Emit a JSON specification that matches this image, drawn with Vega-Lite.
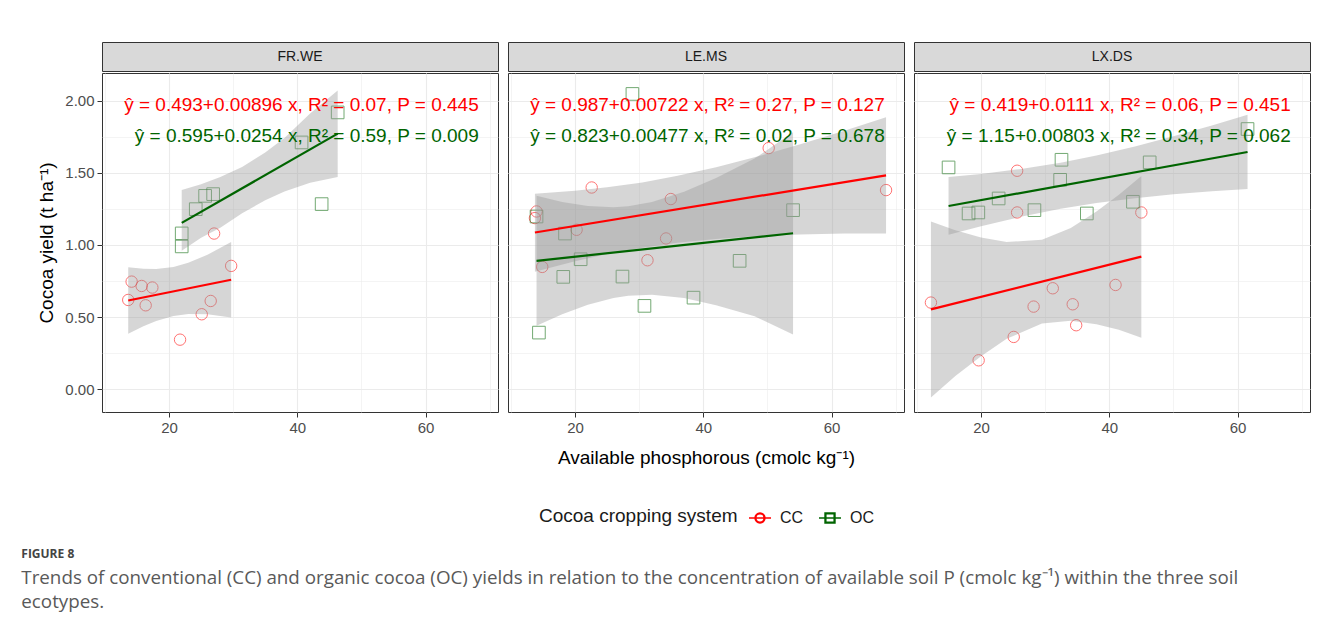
{
  "$schema": "https://vega.github.io/schema/vega-lite/v6.json",
  "padding": {"left": 21, "top": 41, "right": 5, "bottom": 5},
  "background": "white",
  "datasets": {
    "strips": [{"panel": "FR.WE"}, {"panel": "LE.MS"}, {"panel": "LX.DS"}],
    "points": [
      {"panel": "FR.WE", "system": "CC", "P": 13.64, "yield": 0.619},
      {"panel": "FR.WE", "system": "CC", "P": 14.17, "yield": 0.746},
      {"panel": "FR.WE", "system": "CC", "P": 15.73, "yield": 0.716},
      {"panel": "FR.WE", "system": "CC", "P": 17.4, "yield": 0.705},
      {"panel": "FR.WE", "system": "CC", "P": 16.36, "yield": 0.582},
      {"panel": "FR.WE", "system": "CC", "P": 21.72, "yield": 0.344},
      {"panel": "FR.WE", "system": "CC", "P": 25.1, "yield": 0.52},
      {"panel": "FR.WE", "system": "CC", "P": 26.5, "yield": 0.612},
      {"panel": "FR.WE", "system": "CC", "P": 27.03, "yield": 1.079},
      {"panel": "FR.WE", "system": "CC", "P": 29.69, "yield": 0.855},
      {"panel": "FR.WE", "system": "OC", "P": 21.98, "yield": 0.99},
      {"panel": "FR.WE", "system": "OC", "P": 21.98, "yield": 1.08},
      {"panel": "FR.WE", "system": "OC", "P": 24.17, "yield": 1.248},
      {"panel": "FR.WE", "system": "OC", "P": 25.63, "yield": 1.34},
      {"panel": "FR.WE", "system": "OC", "P": 26.88, "yield": 1.352},
      {"panel": "FR.WE", "system": "OC", "P": 40.67, "yield": 1.71},
      {"panel": "FR.WE", "system": "OC", "P": 43.8, "yield": 1.283},
      {"panel": "FR.WE", "system": "OC", "P": 46.3, "yield": 1.918},
      {"panel": "LE.MS", "system": "CC", "P": 13.75, "yield": 1.186},
      {"panel": "LE.MS", "system": "CC", "P": 14.0, "yield": 1.232},
      {"panel": "LE.MS", "system": "CC", "P": 14.89, "yield": 0.848},
      {"panel": "LE.MS", "system": "CC", "P": 20.25, "yield": 1.105},
      {"panel": "LE.MS", "system": "CC", "P": 22.6, "yield": 1.398},
      {"panel": "LE.MS", "system": "CC", "P": 31.3, "yield": 0.894},
      {"panel": "LE.MS", "system": "CC", "P": 34.2, "yield": 1.045},
      {"panel": "LE.MS", "system": "CC", "P": 34.94, "yield": 1.318},
      {"panel": "LE.MS", "system": "CC", "P": 50.2, "yield": 1.671},
      {"panel": "LE.MS", "system": "CC", "P": 68.5, "yield": 1.38},
      {"panel": "LE.MS", "system": "OC", "P": 14.0, "yield": 1.197},
      {"panel": "LE.MS", "system": "OC", "P": 14.37, "yield": 0.393},
      {"panel": "LE.MS", "system": "OC", "P": 18.44, "yield": 1.079},
      {"panel": "LE.MS", "system": "OC", "P": 18.17, "yield": 0.779},
      {"panel": "LE.MS", "system": "OC", "P": 20.88, "yield": 0.901},
      {"panel": "LE.MS", "system": "OC", "P": 27.4, "yield": 0.781},
      {"panel": "LE.MS", "system": "OC", "P": 28.95, "yield": 2.046},
      {"panel": "LE.MS", "system": "OC", "P": 30.83, "yield": 0.578},
      {"panel": "LE.MS", "system": "OC", "P": 38.48, "yield": 0.635},
      {"panel": "LE.MS", "system": "OC", "P": 45.67, "yield": 0.89},
      {"panel": "LE.MS", "system": "OC", "P": 54.0, "yield": 1.241},
      {"panel": "LX.DS", "system": "CC", "P": 12.19, "yield": 0.601},
      {"panel": "LX.DS", "system": "CC", "P": 19.63, "yield": 0.201},
      {"panel": "LX.DS", "system": "CC", "P": 25.1, "yield": 0.363},
      {"panel": "LX.DS", "system": "CC", "P": 25.63, "yield": 1.514},
      {"panel": "LX.DS", "system": "CC", "P": 25.63, "yield": 1.225},
      {"panel": "LX.DS", "system": "CC", "P": 28.2, "yield": 0.573},
      {"panel": "LX.DS", "system": "CC", "P": 31.19, "yield": 0.7},
      {"panel": "LX.DS", "system": "CC", "P": 34.3, "yield": 0.589},
      {"panel": "LX.DS", "system": "CC", "P": 34.84, "yield": 0.444},
      {"panel": "LX.DS", "system": "CC", "P": 40.98, "yield": 0.723},
      {"panel": "LX.DS", "system": "CC", "P": 45.0, "yield": 1.225},
      {"panel": "LX.DS", "system": "OC", "P": 14.94, "yield": 1.537},
      {"panel": "LX.DS", "system": "OC", "P": 18.06, "yield": 1.218},
      {"panel": "LX.DS", "system": "OC", "P": 19.58, "yield": 1.225},
      {"panel": "LX.DS", "system": "OC", "P": 22.75, "yield": 1.322},
      {"panel": "LX.DS", "system": "OC", "P": 28.33, "yield": 1.241},
      {"panel": "LX.DS", "system": "OC", "P": 32.34, "yield": 1.451},
      {"panel": "LX.DS", "system": "OC", "P": 32.55, "yield": 1.59},
      {"panel": "LX.DS", "system": "OC", "P": 36.5, "yield": 1.218},
      {"panel": "LX.DS", "system": "OC", "P": 43.69, "yield": 1.299},
      {"panel": "LX.DS", "system": "OC", "P": 46.3, "yield": 1.572},
      {"panel": "LX.DS", "system": "OC", "P": 61.56, "yield": 1.803}
    ],
    "lines": [
      {"panel": "FR.WE", "system": "CC", "P": 13.64, "fit": 0.615},
      {"panel": "FR.WE", "system": "CC", "P": 29.69, "fit": 0.759},
      {"panel": "FR.WE", "system": "OC", "P": 21.98, "fit": 1.153},
      {"panel": "FR.WE", "system": "OC", "P": 46.3, "fit": 1.771},
      {"panel": "LE.MS", "system": "CC", "P": 13.75, "fit": 1.086},
      {"panel": "LE.MS", "system": "CC", "P": 68.5, "fit": 1.482},
      {"panel": "LE.MS", "system": "OC", "P": 14.0, "fit": 0.89},
      {"panel": "LE.MS", "system": "OC", "P": 54.0, "fit": 1.081},
      {"panel": "LX.DS", "system": "CC", "P": 12.19, "fit": 0.554},
      {"panel": "LX.DS", "system": "CC", "P": 45.0, "fit": 0.919},
      {"panel": "LX.DS", "system": "OC", "P": 14.94, "fit": 1.27},
      {"panel": "LX.DS", "system": "OC", "P": 61.56, "fit": 1.644}
    ],
    "bands": [
      {"panel": "FR.WE", "system": "CC", "P": 13.64, "lo": 0.385, "hi": 0.845},
      {"panel": "FR.WE", "system": "CC", "P": 16, "lo": 0.437, "hi": 0.835},
      {"panel": "FR.WE", "system": "CC", "P": 18, "lo": 0.474, "hi": 0.834},
      {"panel": "FR.WE", "system": "CC", "P": 20.7, "lo": 0.508, "hi": 0.848},
      {"panel": "FR.WE", "system": "CC", "P": 23, "lo": 0.522, "hi": 0.876},
      {"panel": "FR.WE", "system": "CC", "P": 26, "lo": 0.52, "hi": 0.932},
      {"panel": "FR.WE", "system": "CC", "P": 29.69, "lo": 0.498, "hi": 1.02},
      {"panel": "FR.WE", "system": "OC", "P": 21.98, "lo": 0.96, "hi": 1.38},
      {"panel": "FR.WE", "system": "OC", "P": 25, "lo": 1.05, "hi": 1.42},
      {"panel": "FR.WE", "system": "OC", "P": 28, "lo": 1.12, "hi": 1.47},
      {"panel": "FR.WE", "system": "OC", "P": 31.4, "lo": 1.22, "hi": 1.54},
      {"panel": "FR.WE", "system": "OC", "P": 35, "lo": 1.31, "hi": 1.64},
      {"panel": "FR.WE", "system": "OC", "P": 38, "lo": 1.37, "hi": 1.74},
      {"panel": "FR.WE", "system": "OC", "P": 42, "lo": 1.43, "hi": 1.91},
      {"panel": "FR.WE", "system": "OC", "P": 46.3, "lo": 1.47, "hi": 2.07},
      {"panel": "LE.MS", "system": "CC", "P": 13.75, "lo": 0.815, "hi": 1.355},
      {"panel": "LE.MS", "system": "CC", "P": 20, "lo": 0.887, "hi": 1.375},
      {"panel": "LE.MS", "system": "CC", "P": 25, "lo": 0.937, "hi": 1.4},
      {"panel": "LE.MS", "system": "CC", "P": 30.5, "lo": 0.981, "hi": 1.433},
      {"panel": "LE.MS", "system": "CC", "P": 36, "lo": 1.016, "hi": 1.479},
      {"panel": "LE.MS", "system": "CC", "P": 42, "lo": 1.042, "hi": 1.538},
      {"panel": "LE.MS", "system": "CC", "P": 48, "lo": 1.061, "hi": 1.607},
      {"panel": "LE.MS", "system": "CC", "P": 55, "lo": 1.073, "hi": 1.695},
      {"panel": "LE.MS", "system": "CC", "P": 62, "lo": 1.079, "hi": 1.791},
      {"panel": "LE.MS", "system": "CC", "P": 68.5, "lo": 1.08, "hi": 1.884},
      {"panel": "LE.MS", "system": "OC", "P": 14.0, "lo": 0.44, "hi": 1.34},
      {"panel": "LE.MS", "system": "OC", "P": 18, "lo": 0.52, "hi": 1.298},
      {"panel": "LE.MS", "system": "OC", "P": 22, "lo": 0.586, "hi": 1.27},
      {"panel": "LE.MS", "system": "OC", "P": 26, "lo": 0.633, "hi": 1.261},
      {"panel": "LE.MS", "system": "OC", "P": 28.3, "lo": 0.648, "hi": 1.268},
      {"panel": "LE.MS", "system": "OC", "P": 32, "lo": 0.655, "hi": 1.297},
      {"panel": "LE.MS", "system": "OC", "P": 37, "lo": 0.632, "hi": 1.368},
      {"panel": "LE.MS", "system": "OC", "P": 42, "lo": 0.583, "hi": 1.463},
      {"panel": "LE.MS", "system": "OC", "P": 48, "lo": 0.506, "hi": 1.598},
      {"panel": "LE.MS", "system": "OC", "P": 54.0, "lo": 0.38, "hi": 1.78},
      {"panel": "LX.DS", "system": "CC", "P": 12.19, "lo": -0.057, "hi": 1.163},
      {"panel": "LX.DS", "system": "CC", "P": 16, "lo": 0.092, "hi": 1.102},
      {"panel": "LX.DS", "system": "CC", "P": 20, "lo": 0.23, "hi": 1.052},
      {"panel": "LX.DS", "system": "CC", "P": 24, "lo": 0.35, "hi": 1.02},
      {"panel": "LX.DS", "system": "CC", "P": 29.5, "lo": 0.456, "hi": 1.036},
      {"panel": "LX.DS", "system": "CC", "P": 34, "lo": 0.475, "hi": 1.117},
      {"panel": "LX.DS", "system": "CC", "P": 38, "lo": 0.451, "hi": 1.231},
      {"panel": "LX.DS", "system": "CC", "P": 41.5, "lo": 0.412, "hi": 1.348},
      {"panel": "LX.DS", "system": "CC", "P": 45.0, "lo": 0.357, "hi": 1.477},
      {"panel": "LX.DS", "system": "OC", "P": 14.94, "lo": 1.07, "hi": 1.47},
      {"panel": "LX.DS", "system": "OC", "P": 20, "lo": 1.13, "hi": 1.492},
      {"panel": "LX.DS", "system": "OC", "P": 26, "lo": 1.193, "hi": 1.525},
      {"panel": "LX.DS", "system": "OC", "P": 32.4, "lo": 1.25, "hi": 1.57},
      {"panel": "LX.DS", "system": "OC", "P": 38, "lo": 1.29, "hi": 1.62},
      {"panel": "LX.DS", "system": "OC", "P": 44, "lo": 1.324, "hi": 1.682},
      {"panel": "LX.DS", "system": "OC", "P": 50, "lo": 1.351, "hi": 1.753},
      {"panel": "LX.DS", "system": "OC", "P": 56, "lo": 1.372, "hi": 1.828},
      {"panel": "LX.DS", "system": "OC", "P": 61.56, "lo": 1.388, "hi": 1.902}
    ],
    "labels": [
      {"panel": "FR.WE", "system": "CC", "P": 68.3, "ypos": 1.97, "label": "ŷ = 0.493+0.00896 x, R² = 0.07, P = 0.445"},
      {"panel": "FR.WE", "system": "OC", "P": 68.3, "ypos": 1.756, "label": "ŷ = 0.595+0.0254 x, R² = 0.59, P = 0.009"},
      {"panel": "LE.MS", "system": "CC", "P": 68.3, "ypos": 1.97, "label": "ŷ = 0.987+0.00722 x, R² = 0.27, P = 0.127"},
      {"panel": "LE.MS", "system": "OC", "P": 68.3, "ypos": 1.756, "label": "ŷ = 0.823+0.00477 x, R² = 0.02, P = 0.678"},
      {"panel": "LX.DS", "system": "CC", "P": 68.3, "ypos": 1.97, "label": "ŷ = 0.419+0.0111 x, R² = 0.06, P = 0.451"},
      {"panel": "LX.DS", "system": "OC", "P": 68.3, "ypos": 1.756, "label": "ŷ = 1.15+0.00803 x, R² = 0.34, P = 0.062"}
    ]
  },
  "title": {
    "text": "FIGURE 8",
    "subtitle": ["Trends of conventional (CC) and organic cocoa (OC) yields in relation to the concentration of available soil P (cmolc kg⁻¹) within the three soil", "ecotypes."],
    "orient": "bottom",
    "anchor": "start",
    "offset": 23,
    "dx": -16,
    "font": "Open Sans",
    "fontSize": 12,
    "fontWeight": "bold",
    "color": "#444444",
    "subtitleFont": "Open Sans",
    "subtitleFontSize": 18.8,
    "subtitleColor": "#595959",
    "subtitlePadding": 8,
    "subtitleLineHeight": 23.5
  },
  "spacing": 8,
  "hconcat": [
    {
      "spacing": 0,
      "vconcat": [
        {
          "width": 396, "height": 29,
          "view": {"fill": "#D9D9D9", "stroke": "#333333"},
          "data": {"name": "strips"},
          "transform": [{"filter": "datum.panel === 'FR.WE'"}],
          "mark": {"type": "text", "fontSize": 14, "color": "#1A1A1A"},
          "encoding": {"text": {"field": "panel"}}
        },
        {
          "width": 396, "height": 339,
          "view": {"stroke": "#333333"},
          "layer": [
            {
              "data": {"name": "points"},
              "transform": [{"filter": "datum.panel === 'FR.WE' && datum.system === 'CC'"}],
              "mark": {"type": "point", "shape": "circle", "filled": false, "size": 130, "strokeWidth": 1, "opacity": 0.55},
              "encoding": {
                "x": {"field": "P", "type": "quantitative", "scale": {"domain": [9.55, 71.3], "nice": false, "zero": false},
                  "axis": {"values": [10, 20, 30, 40, 50, 60, 70], "labelExpr": "datum.value % 20 === 0 ? datum.label : ''", "labelOverlap": false,
                    "tickOpacity": {"condition": {"test": "datum.value % 20 === 0", "value": 1}, "value": 0},
                    "gridWidth": {"condition": {"test": "datum.value % 20 === 0", "value": 1.1}, "value": 0.55}, "title": null}},
                "y": {"field": "yield", "type": "quantitative", "scale": {"domain": [-0.157, 2.191], "nice": false, "zero": false},
                  "axis": {"values": [0, 0.25, 0.5, 0.75, 1, 1.25, 1.5, 1.75, 2], "labelExpr": "datum.value % 0.5 === 0 ? format(datum.value, '.2f') : ''", "labelOverlap": false,
                    "tickOpacity": {"condition": {"test": "datum.value % 0.5 === 0", "value": 1}, "value": 0},
                    "gridWidth": {"condition": {"test": "datum.value % 0.5 === 0", "value": 1.1}, "value": 0.55},
                    "title": "Cocoa yield  (t ha⁻¹)"}},
                "color": {"field": "system", "type": "nominal", "scale": {"domain": ["CC", "OC"], "range": ["#FF0000", "#006400"]}, "legend": null}
              }
            },
            {
              "data": {"name": "points"},
              "transform": [{"filter": "datum.panel === 'FR.WE' && datum.system === 'OC'"}],
              "mark": {"type": "point", "shape": "square", "filled": false, "size": 160, "strokeWidth": 1, "opacity": 0.55},
              "encoding": {
                "x": {"field": "P", "type": "quantitative"},
                "y": {"field": "yield", "type": "quantitative"},
                "color": {"field": "system", "type": "nominal", "legend": null}
              }
            },
            {
              "data": {"name": "bands"},
              "transform": [{"filter": "datum.panel === 'FR.WE'"}],
              "mark": {"type": "area", "color": "#999999", "opacity": 0.4},
              "encoding": {
                "x": {"field": "P", "type": "quantitative"},
                "y": {"field": "lo", "type": "quantitative"},
                "y2": {"field": "hi"},
                "detail": {"field": "system"}
              }
            },
            {
              "data": {"name": "lines"},
              "transform": [{"filter": "datum.panel === 'FR.WE'"}],
              "mark": {"type": "line", "strokeWidth": 2.2},
              "encoding": {
                "x": {"field": "P", "type": "quantitative"},
                "y": {"field": "fit", "type": "quantitative"},
                "color": {"field": "system", "type": "nominal", "legend": null}
              }
            },
            {
              "data": {"name": "labels"},
              "transform": [{"filter": "datum.panel === 'FR.WE'"}],
              "mark": {"type": "text", "align": "right", "baseline": "middle", "fontSize": 19},
              "encoding": {
                "x": {"field": "P", "type": "quantitative"},
                "y": {"field": "ypos", "type": "quantitative"},
                "text": {"field": "label"},
                "color": {"field": "system", "type": "nominal", "legend": null}
              }
            }
          ]
        }
      ]
    },
    {
      "spacing": 0,
      "vconcat": [
        {
          "width": 396, "height": 29,
          "view": {"fill": "#D9D9D9", "stroke": "#333333"},
          "data": {"name": "strips"},
          "transform": [{"filter": "datum.panel === 'LE.MS'"}],
          "mark": {"type": "text", "fontSize": 14, "color": "#1A1A1A"},
          "encoding": {"text": {"field": "panel"}}
        },
        {
          "width": 396, "height": 339,
          "view": {"stroke": "#333333"},
          "layer": [
            {
              "data": {"name": "points"},
              "transform": [{"filter": "datum.panel === 'LE.MS'"}],
              "mark": {"type": "point", "filled": false, "opacity": 0, "size": 1},
              "encoding": {
                "x": {"field": "P", "type": "quantitative", "scale": {"domain": [9.55, 71.3], "nice": false, "zero": false}},
                "y": {"field": "yield", "type": "quantitative", "scale": {"domain": [-0.157, 2.191], "nice": false, "zero": false}},
                "color": {"field": "system", "type": "nominal", "scale": {"domain": ["CC", "OC"], "range": ["#FF0000", "#006400"]},
                  "legend": {"title": "Cocoa cropping system", "orient": "bottom", "direction": "horizontal", "titleOrient": "left", "offset": 38,
                    "symbolSize": 484, "symbolStrokeWidth": 1.5, "symbolOpacity": 1,
                    "labelFontSize": 16, "titleFontSize": 19, "titleFontWeight": "normal", "titleLimit": 400,
                    "titleColor": "#1A1A1A", "labelColor": "#1A1A1A", "columnPadding": 12, "labelOffset": 8, "titlePadding": 10}},
                "shape": {"field": "system", "type": "nominal",
                  "scale": {"domain": ["CC", "OC"], "range": [
                    "M-1,0H1M0.45,0A0.45,0.45,0,1,0,-0.45,0A0.45,0.45,0,1,0,0.45,0ZM0.38,0A0.38,0.38,0,1,1,-0.38,0A0.38,0.38,0,1,1,0.38,0Z",
                    "M-1,0H1M-0.45,-0.45H0.45V0.45H-0.45ZM-0.38,-0.38V0.38H0.38V-0.38Z"]},
                  "legend": {"title": "Cocoa cropping system", "orient": "bottom", "direction": "horizontal", "titleOrient": "left", "offset": 38,
                    "symbolSize": 484, "symbolStrokeWidth": 1.5, "symbolOpacity": 1,
                    "labelFontSize": 16, "titleFontSize": 19, "titleFontWeight": "normal", "titleLimit": 400,
                    "titleColor": "#1A1A1A", "labelColor": "#1A1A1A", "columnPadding": 12, "labelOffset": 8, "titlePadding": 10}}
              }
            },
            {
              "data": {"name": "points"},
              "transform": [{"filter": "datum.panel === 'LE.MS' && datum.system === 'CC'"}],
              "mark": {"type": "point", "shape": "circle", "filled": false, "size": 130, "strokeWidth": 1, "opacity": 0.55},
              "encoding": {
                "x": {"field": "P", "type": "quantitative",
                  "axis": {"values": [10, 20, 30, 40, 50, 60, 70], "labelExpr": "datum.value % 20 === 0 ? datum.label : ''", "labelOverlap": false,
                    "tickOpacity": {"condition": {"test": "datum.value % 20 === 0", "value": 1}, "value": 0},
                    "gridWidth": {"condition": {"test": "datum.value % 20 === 0", "value": 1.1}, "value": 0.55},
                    "title": "Available phosphorous  (cmolc kg⁻¹)"}},
                "y": {"field": "yield", "type": "quantitative",
                  "axis": {"values": [0, 0.25, 0.5, 0.75, 1, 1.25, 1.5, 1.75, 2], "labels": false, "ticks": false, "title": null,
                    "gridWidth": {"condition": {"test": "datum.value % 0.5 === 0", "value": 1.1}, "value": 0.55}}},
                "color": {"field": "system", "type": "nominal", "legend": null}
              }
            },
            {
              "data": {"name": "points"},
              "transform": [{"filter": "datum.panel === 'LE.MS' && datum.system === 'OC'"}],
              "mark": {"type": "point", "shape": "square", "filled": false, "size": 160, "strokeWidth": 1, "opacity": 0.55},
              "encoding": {
                "x": {"field": "P", "type": "quantitative"},
                "y": {"field": "yield", "type": "quantitative"},
                "color": {"field": "system", "type": "nominal", "legend": null}
              }
            },
            {
              "data": {"name": "bands"},
              "transform": [{"filter": "datum.panel === 'LE.MS'"}],
              "mark": {"type": "area", "color": "#999999", "opacity": 0.4},
              "encoding": {
                "x": {"field": "P", "type": "quantitative"},
                "y": {"field": "lo", "type": "quantitative"},
                "y2": {"field": "hi"},
                "detail": {"field": "system"}
              }
            },
            {
              "data": {"name": "lines"},
              "transform": [{"filter": "datum.panel === 'LE.MS'"}],
              "mark": {"type": "line", "strokeWidth": 2.2},
              "encoding": {
                "x": {"field": "P", "type": "quantitative"},
                "y": {"field": "fit", "type": "quantitative"},
                "color": {"field": "system", "type": "nominal", "legend": null}
              }
            },
            {
              "data": {"name": "labels"},
              "transform": [{"filter": "datum.panel === 'LE.MS'"}],
              "mark": {"type": "text", "align": "right", "baseline": "middle", "fontSize": 19},
              "encoding": {
                "x": {"field": "P", "type": "quantitative"},
                "y": {"field": "ypos", "type": "quantitative"},
                "text": {"field": "label"},
                "color": {"field": "system", "type": "nominal", "legend": null}
              }
            }
          ]
        }
      ]
    },
    {
      "spacing": 0,
      "vconcat": [
        {
          "width": 396, "height": 29,
          "view": {"fill": "#D9D9D9", "stroke": "#333333"},
          "data": {"name": "strips"},
          "transform": [{"filter": "datum.panel === 'LX.DS'"}],
          "mark": {"type": "text", "fontSize": 14, "color": "#1A1A1A"},
          "encoding": {"text": {"field": "panel"}}
        },
        {
          "width": 396, "height": 339,
          "view": {"stroke": "#333333"},
          "layer": [
            {
              "data": {"name": "points"},
              "transform": [{"filter": "datum.panel === 'LX.DS' && datum.system === 'CC'"}],
              "mark": {"type": "point", "shape": "circle", "filled": false, "size": 130, "strokeWidth": 1, "opacity": 0.55},
              "encoding": {
                "x": {"field": "P", "type": "quantitative", "scale": {"domain": [9.55, 71.3], "nice": false, "zero": false},
                  "axis": {"values": [10, 20, 30, 40, 50, 60, 70], "labelExpr": "datum.value % 20 === 0 ? datum.label : ''", "labelOverlap": false,
                    "tickOpacity": {"condition": {"test": "datum.value % 20 === 0", "value": 1}, "value": 0},
                    "gridWidth": {"condition": {"test": "datum.value % 20 === 0", "value": 1.1}, "value": 0.55}, "title": null}},
                "y": {"field": "yield", "type": "quantitative", "scale": {"domain": [-0.157, 2.191], "nice": false, "zero": false},
                  "axis": {"values": [0, 0.25, 0.5, 0.75, 1, 1.25, 1.5, 1.75, 2], "labels": false, "ticks": false, "title": null,
                    "gridWidth": {"condition": {"test": "datum.value % 0.5 === 0", "value": 1.1}, "value": 0.55}}},
                "color": {"field": "system", "type": "nominal", "scale": {"domain": ["CC", "OC"], "range": ["#FF0000", "#006400"]}, "legend": null}
              }
            },
            {
              "data": {"name": "points"},
              "transform": [{"filter": "datum.panel === 'LX.DS' && datum.system === 'OC'"}],
              "mark": {"type": "point", "shape": "square", "filled": false, "size": 160, "strokeWidth": 1, "opacity": 0.55},
              "encoding": {
                "x": {"field": "P", "type": "quantitative"},
                "y": {"field": "yield", "type": "quantitative"},
                "color": {"field": "system", "type": "nominal", "legend": null}
              }
            },
            {
              "data": {"name": "bands"},
              "transform": [{"filter": "datum.panel === 'LX.DS'"}],
              "mark": {"type": "area", "color": "#999999", "opacity": 0.4},
              "encoding": {
                "x": {"field": "P", "type": "quantitative"},
                "y": {"field": "lo", "type": "quantitative"},
                "y2": {"field": "hi"},
                "detail": {"field": "system"}
              }
            },
            {
              "data": {"name": "lines"},
              "transform": [{"filter": "datum.panel === 'LX.DS'"}],
              "mark": {"type": "line", "strokeWidth": 2.2},
              "encoding": {
                "x": {"field": "P", "type": "quantitative"},
                "y": {"field": "fit", "type": "quantitative"},
                "color": {"field": "system", "type": "nominal", "legend": null}
              }
            },
            {
              "data": {"name": "labels"},
              "transform": [{"filter": "datum.panel === 'LX.DS'"}],
              "mark": {"type": "text", "align": "right", "baseline": "middle", "fontSize": 19},
              "encoding": {
                "x": {"field": "P", "type": "quantitative"},
                "y": {"field": "ypos", "type": "quantitative"},
                "text": {"field": "label"},
                "color": {"field": "system", "type": "nominal", "legend": null}
              }
            }
          ]
        }
      ]
    }
  ],
  "resolve": {"scale": {"color": "shared", "shape": "shared"}, "legend": {"color": "independent", "shape": "independent"}},
  "config": {
    "font": "Liberation Sans",
    "view": {"stroke": "#333333"},
    "axis": {
      "domain": false, "grid": true, "gridColor": "#EBEBEB",
      "tickColor": "#333333", "tickSize": 5, "tickWidth": 1,
      "labelColor": "#4D4D4D", "labelFontSize": 15, "labelFont": "Liberation Sans", "labelPadding": 3,
      "titleFont": "Liberation Sans", "titleFontSize": 19, "titleFontWeight": "normal", "titleColor": "#000000"
    },
    "axisY": {"titlePadding": 8},
    "axisX": {"titlePadding": 13},
    "legend": {"layout": {"bottom": {"anchor": "middle"}}}
  }
}
